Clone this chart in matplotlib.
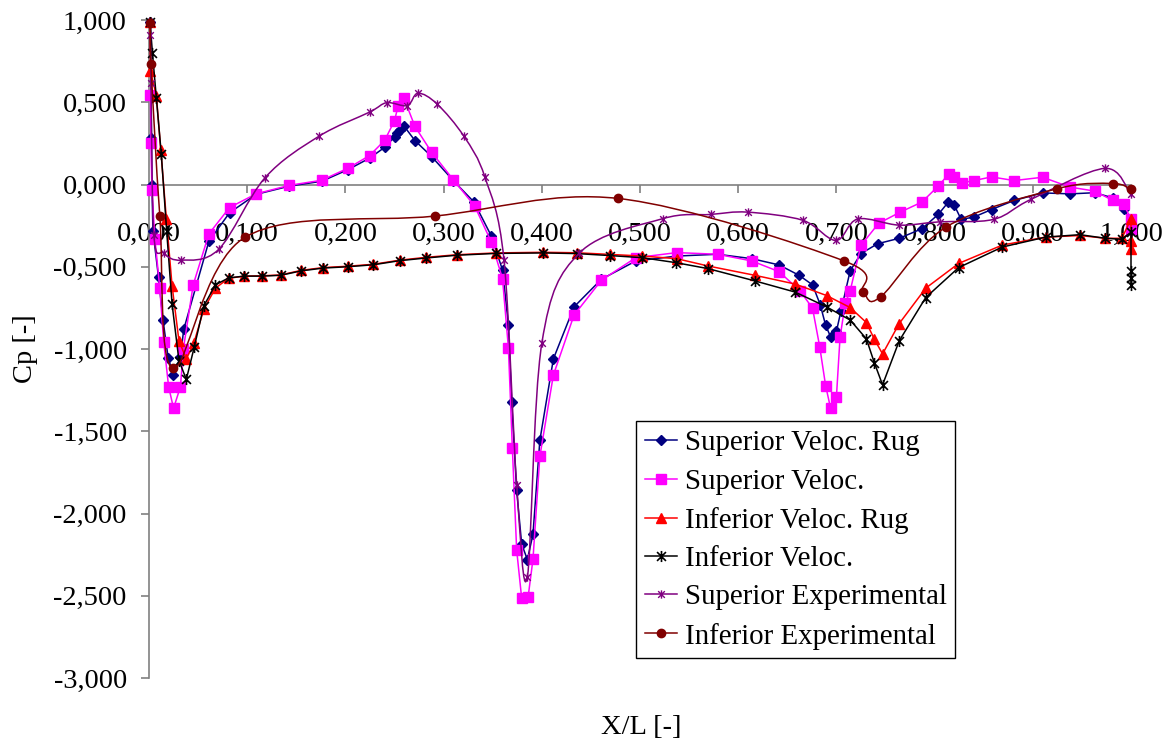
import matplotlib
matplotlib.use('Agg')
import numpy as np
import matplotlib.pyplot as plt
from matplotlib.path import Path
from matplotlib.patches import PathPatch
from matplotlib.lines import Line2D
from matplotlib.ticker import FuncFormatter, MultipleLocator

plt.rcParams['font.family'] = ['Liberation Serif', 'DejaVu Serif']

# --- data (x/L, Cp) ---
sup_rug_x = [0.0015, 0.0025, 0.003, 0.004, 0.0097, 0.0143, 0.0195, 0.0248, 0.032, 0.0354,
             0.061, 0.082, 0.109, 0.143, 0.176, 0.2025, 0.2246, 0.240, 0.250, 0.2528,
             0.2555, 0.260, 0.2708, 0.2878, 0.310, 0.331, 0.3486, 0.360, 0.366, 0.3693,
             0.3744, 0.3795, 0.3853, 0.391, 0.398, 0.4118, 0.4328, 0.4607, 0.4957, 0.5375,
             0.579, 0.614, 0.6417, 0.662, 0.6757, 0.6835, 0.689, 0.694, 0.700, 0.7046,
             0.714, 0.725, 0.742, 0.764, 0.787, 0.8037, 0.814, 0.820, 0.827, 0.840,
             0.858, 0.881, 0.910, 0.938, 0.963, 0.9815, 0.9927, 1.0]
sup_rug_y = [0.99, 0.28, -0.005, -0.28, -0.565, -0.825, -1.053, -1.157, -1.047, -0.88,
             -0.345, -0.172, -0.06, -0.01, 0.02, 0.09, 0.16, 0.226, 0.289, 0.313,
             0.333, 0.353, 0.267, 0.17, 0.023, -0.107, -0.313, -0.52, -0.853, -1.32,
             -1.86, -2.186, -2.28, -2.127, -1.556, -1.06, -0.744, -0.576, -0.465, -0.435,
             -0.424, -0.451, -0.489, -0.552, -0.61, -0.73, -0.855, -0.925, -0.893, -0.77,
             -0.525, -0.42, -0.36, -0.327, -0.269, -0.182, -0.107, -0.125, -0.212, -0.198,
             -0.152, -0.097, -0.051, -0.057, -0.05, -0.081, -0.15, -0.23]

sup_x = [0.0015, 0.002, 0.003, 0.006, 0.011, 0.015, 0.020, 0.025, 0.032, 0.035,
         0.045, 0.061, 0.082, 0.109, 0.143, 0.176, 0.203, 0.2246, 0.240, 0.250,
         0.2538, 0.2596, 0.2708, 0.2878, 0.310, 0.3316, 0.3486, 0.360, 0.366, 0.370,
         0.3744, 0.3795, 0.386, 0.391, 0.398, 0.4118, 0.4328, 0.4607, 0.4957, 0.5375,
         0.579, 0.614, 0.6417, 0.663, 0.6757, 0.683, 0.689, 0.694, 0.700, 0.7037,
         0.709, 0.714, 0.725, 0.743, 0.765, 0.787, 0.8037, 0.8144, 0.82, 0.828,
         0.84, 0.858, 0.881, 0.910, 0.938, 0.963, 0.9815, 0.9927, 1.0, 1.0]
sup_y = [0.545, 0.25, -0.035, -0.33, -0.63, -0.96, -1.23, -1.36, -1.23, -1.0,
         -0.61, -0.30, -0.14, -0.057, -0.005, 0.026, 0.10, 0.176, 0.268, 0.388,
         0.48, 0.525, 0.353, 0.196, 0.028, -0.13, -0.35, -0.572, -0.994, -1.6,
         -2.222, -2.515, -2.51, -2.279, -1.653, -1.158, -0.794, -0.582, -0.445, -0.414,
         -0.424, -0.465, -0.53, -0.647, -0.752, -0.986, -1.222, -1.358, -1.293, -0.93,
         -0.723, -0.647, -0.37, -0.236, -0.168, -0.107, -0.01, 0.064, 0.044, 0.01,
         0.024, 0.046, 0.024, 0.044, -0.016, -0.04, -0.097, -0.121, -0.212, -0.27]

inf_rug_x = [0.001, 0.0015, 0.0075, 0.012, 0.0177, 0.0235, 0.0305, 0.038, 0.0456, 0.0558,
             0.0677, 0.081, 0.097, 0.1146, 0.134, 0.155, 0.1774, 0.2022, 0.2284, 0.2553,
             0.2817, 0.3133, 0.353, 0.4016, 0.4356, 0.4695, 0.5025, 0.5375, 0.569, 0.617,
             0.658, 0.690, 0.714, 0.7305, 0.7386, 0.747, 0.764, 0.791, 0.8245, 0.869,
             0.913, 0.948, 0.974, 0.9907, 1.0, 1.0, 1.0]
inf_rug_y = [0.99, 0.69, 0.54, 0.21, -0.21, -0.616, -0.95, -1.06, -0.966, -0.758,
             -0.63, -0.57, -0.557, -0.555, -0.55, -0.522, -0.505, -0.497, -0.485, -0.46,
             -0.443, -0.427, -0.416, -0.412, -0.415, -0.425, -0.435, -0.451, -0.495, -0.552,
             -0.605, -0.675, -0.748, -0.839, -0.94, -1.03, -0.845, -0.63, -0.48, -0.368,
             -0.32, -0.31, -0.327, -0.327, -0.21, -0.344, -0.394]

inf_x = [0.001, 0.0035, 0.0075, 0.0125, 0.018, 0.0235, 0.0305, 0.038, 0.046, 0.0558,
         0.0677, 0.081, 0.097, 0.1146, 0.134, 0.155, 0.1774, 0.2022, 0.2284, 0.2553,
         0.2817, 0.3133, 0.353, 0.4016, 0.4356, 0.4695, 0.5025, 0.5365, 0.569, 0.617,
         0.658, 0.690, 0.714, 0.7305, 0.7386, 0.747, 0.764, 0.791, 0.8245, 0.869,
         0.913, 0.948, 0.974, 0.9907, 1.0, 1.0, 1.0, 1.0]
inf_y = [0.99, 0.80, 0.525, 0.186, -0.283, -0.727, -1.07, -1.185, -0.99, -0.738,
         -0.61, -0.568, -0.557, -0.557, -0.552, -0.525, -0.508, -0.5, -0.488, -0.463,
         -0.447, -0.43, -0.419, -0.416, -0.42, -0.432, -0.445, -0.475, -0.511, -0.586,
         -0.654, -0.744, -0.824, -0.938, -1.083, -1.218, -0.95, -0.687, -0.505, -0.38,
         -0.32, -0.305, -0.327, -0.333, -0.29, -0.525, -0.57, -0.613]

sup_exp_x = [0.0015, 0.002, 0.005, 0.015, 0.033, 0.071, 0.118, 0.173, 0.2246, 0.242,
             0.263, 0.274, 0.2936, 0.3207, 0.342, 0.3615, 0.3744, 0.3853, 0.400, 0.438,
             0.523, 0.572, 0.6095, 0.666, 0.6995, 0.7216, 0.764, 0.805, 0.860, 0.898,
             0.9735, 0.9995]
sup_exp_y = [0.91, 0.616, -0.31, -0.418, -0.46, -0.394, 0.04, 0.293, 0.44, 0.497,
             0.48, 0.555, 0.488, 0.293, 0.046, -0.459, -1.824, -2.384, -0.966, -0.418,
             -0.208, -0.182, -0.168, -0.218, -0.34, -0.21, -0.247, -0.227, -0.212, -0.091,
             0.098, -0.06]

inf_exp_x = [0.0015, 0.002, 0.011, 0.0245, 0.098, 0.291, 0.478, 0.708, 0.727, 0.745,
             0.8116, 0.9245, 0.9813, 0.9995]
inf_exp_y = [0.98, 0.73, -0.19, -1.118, -0.32, -0.192, -0.085, -0.465, -0.651, -0.683,
             -0.259, -0.026, 0.006, -0.028]

labels = ['Superior Veloc. Rug', 'Superior Veloc.', 'Inferior Veloc. Rug',
          'Inferior Veloc.', 'Superior Experimental', 'Inferior Experimental']

# excel-like "star" marker: an x with a vertical bar through it
star = Path([(-1, -1), (1, 1), (-1, 1), (1, -1), (0, -1.25), (0, 1.25)],
            [Path.MOVETO, Path.LINETO, Path.MOVETO, Path.LINETO, Path.MOVETO, Path.LINETO])


def smooth_path(x, y):
    # bezier through the points, like excel's smoothed line
    pts = np.column_stack([x, y])
    n = len(pts)
    verts = [pts[0]]
    codes = [Path.MOVETO]
    for i in range(n - 1):
        p0 = pts[max(i - 1, 0)]
        p1 = pts[i]
        p2 = pts[i + 1]
        p3 = pts[min(i + 2, n - 1)]
        verts += [p1 + (p2 - p0) / 6.0, p2 - (p3 - p1) / 6.0, p2]
        codes += [Path.CURVE4] * 3
    return Path(verts, codes)


fig = plt.figure(figsize=(11.7, 7.44), dpi=100)
ax = fig.add_axes([149 / 1170, 66 / 744, 982 / 1170, 658 / 744])

styles = [
    dict(color='#000080', marker='D', ms=5, mec='#000080', mfc='#000080'),
    dict(color='#FF00FF', marker='s', ms=6.5, mec='#FF00FF', mfc='#FF00FF'),
    dict(color='#FF0000', marker='^', ms=7, mec='#FF0000', mfc='#FF0000'),
    dict(color='#000000', marker=star, ms=8, mec='#000000', mfc='none', mew=1.2),
    dict(color='#800080', marker=star, ms=6, mec='#800080', mfc='none', mew=1.0),
    dict(color='#800000', marker='o', ms=6, mec='#800000', mfc='#800000'),
]

series = [(sup_rug_x, sup_rug_y), (sup_x, sup_y), (inf_rug_x, inf_rug_y),
          (inf_x, inf_y), (sup_exp_x, sup_exp_y), (inf_exp_x, inf_exp_y)]

handles = []
for i, ((xs, ys), st) in enumerate(zip(series, styles)):
    if i < 4:
        ax.plot(xs, ys, lw=1.1, clip_on=False, zorder=3 + i, **st)
    else:
        ax.add_patch(PathPatch(smooth_path(xs, ys), facecolor='none', edgecolor=st['color'],
                               lw=1.1, clip_on=False, zorder=3 + i))
        ax.plot(xs, ys, ls='none', clip_on=False, zorder=3 + i, **st)
    handles.append(Line2D([], [], lw=1.1, label=labels[i], **st))

ax.set_xlim(0, 1)
ax.set_ylim(-3, 1)

for s in ['top', 'right']:
    ax.spines[s].set_visible(False)
ax.spines['bottom'].set_position(('data', 0))
ax.spines['left'].set_position(('data', 0))
ax.spines['bottom'].set_color('#808080')
ax.spines['left'].set_color('#808080')
ax.spines['bottom'].set_linewidth(1.2)
ax.spines['left'].set_linewidth(1.2)

fmt = FuncFormatter(lambda v, p: '{:.3f}'.format(v).replace('.', ','))
ax.xaxis.set_major_locator(MultipleLocator(0.1))
ax.yaxis.set_major_locator(MultipleLocator(0.5))
ax.xaxis.set_major_formatter(fmt)
ax.yaxis.set_major_formatter(fmt)
ax.tick_params(axis='x', direction='out', length=6, width=1.2, color='#808080',
               pad=21, labelsize=20.5)
ax.tick_params(axis='y', direction='out', length=6, width=1.2, color='#808080',
               pad=10, labelsize=20.5)

fig.text(25 / 1170, 1 - 349 / 744, 'Cp [-]', rotation=90, ha='center', va='center', fontsize=20.5)
fig.text(641 / 1170, 1 - 728 / 744, 'X/L [-]', ha='center', va='center', fontsize=20.5)

leg = ax.legend(handles=handles, loc='upper left', bbox_to_anchor=(0.496, 0.39),
                fontsize=20.8, frameon=True, fancybox=False, framealpha=1,
                edgecolor='#000000', borderaxespad=0, handlelength=1.1,
                handletextpad=0.28, labelspacing=0.42, borderpad=0.3)
leg.get_frame().set_linewidth(1.0)
leg.set_zorder(20)

fig.savefig('out.png', dpi=100)
